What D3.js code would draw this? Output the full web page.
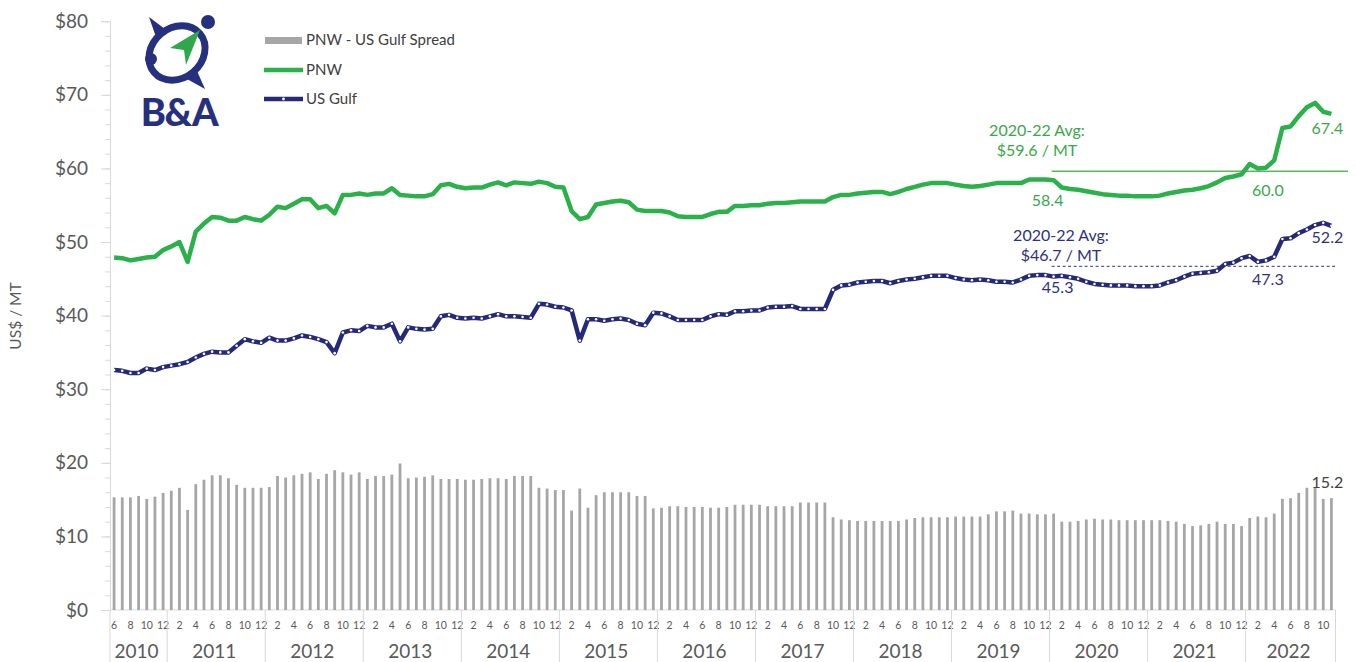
<!DOCTYPE html>
<html>
<head>
<meta charset="utf-8">
<script src="https://cdn.jsdelivr.net/npm/d3@7"></script>
<style>
  html, body { margin: 0; padding: 0; background: #fff; }
  svg { display: block; font-family: Lato, "Open Sans", "Liberation Sans", sans-serif; }
</style>
</head>
<body>
<svg id="chart" width="1356" height="662"></svg>
<script>
// Monthly series, June 2010 through November 2022 (US$ per metric ton)
const startYear = 2010;
const startMonth = 6;

const pnw = [
  47.9, 47.8, 47.5, 47.7, 47.9, 48.0, 48.9, 49.4, 50.0, 47.3,
  51.4, 52.5, 53.4, 53.3, 52.9, 52.9, 53.4, 53.1, 52.9, 53.7,
  54.8, 54.6, 55.2, 55.8, 55.8, 54.6, 54.9, 53.9, 56.4, 56.4,
  56.6, 56.4, 56.6, 56.6, 57.3, 56.4, 56.3, 56.2, 56.2, 56.5,
  57.7, 57.9, 57.5, 57.3, 57.4, 57.4, 57.8, 58.1, 57.7, 58.1,
  58.0, 57.9, 58.2, 58.0, 57.5, 57.4, 54.2, 53.1, 53.4, 55.1,
  55.3, 55.5, 55.6, 55.4, 54.4, 54.2, 54.2, 54.2, 54.0, 53.5,
  53.4, 53.4, 53.4, 53.8, 54.1, 54.1, 54.9, 54.9, 55.0, 55.0,
  55.2, 55.3, 55.3, 55.4, 55.5, 55.5, 55.5, 55.5, 56.1, 56.4,
  56.4, 56.6, 56.7, 56.8, 56.8, 56.5, 56.8, 57.2, 57.5, 57.8,
  58.0, 58.0, 58.0, 57.8, 57.6, 57.5, 57.6, 57.8, 58.0, 58.0,
  58.0, 58.0, 58.5, 58.5, 58.5, 58.4, 57.4, 57.2, 57.1, 56.9,
  56.7, 56.5, 56.4, 56.3, 56.3, 56.2, 56.2, 56.2, 56.3, 56.6,
  56.8, 57.0, 57.1, 57.3, 57.6, 58.1, 58.7, 58.9, 59.2, 60.6,
  60.0, 60.1, 61.1, 65.5, 65.7, 67.1, 68.3, 68.9, 67.7, 67.4
];

const usGulf = [
  32.6, 32.5, 32.2, 32.2, 32.8, 32.6, 33.0, 33.2, 33.4, 33.7,
  34.3, 34.8, 35.1, 35.0, 35.0, 35.9, 36.8, 36.5, 36.3, 37.0,
  36.6, 36.6, 36.9, 37.3, 37.1, 36.8, 36.4, 34.9, 37.7, 38.0,
  37.9, 38.6, 38.4, 38.4, 38.9, 36.5, 38.4, 38.2, 38.1, 38.2,
  39.9, 40.1, 39.7, 39.6, 39.7, 39.6, 39.9, 40.2, 39.9, 39.9,
  39.8, 39.7, 41.6, 41.5, 41.2, 41.1, 40.7, 36.6, 39.5, 39.5,
  39.3, 39.5, 39.6, 39.4, 38.9, 38.7, 40.4, 40.3, 39.9, 39.4,
  39.4, 39.4, 39.4, 39.9, 40.2, 40.1, 40.6, 40.6, 40.7, 40.7,
  41.1, 41.2, 41.2, 41.3, 40.9, 40.9, 40.9, 40.9, 43.5, 44.1,
  44.2, 44.5, 44.6, 44.7, 44.7, 44.4, 44.7, 44.9, 45.0, 45.2,
  45.4, 45.4, 45.4, 45.1, 44.9, 44.8, 44.9, 44.8, 44.6, 44.6,
  44.5, 44.9, 45.4, 45.5, 45.5, 45.3, 45.4, 45.2, 45.0, 44.6,
  44.3, 44.2, 44.1, 44.1, 44.1, 44.0, 44.0, 44.0, 44.1, 44.5,
  44.8, 45.3, 45.7, 45.8, 45.9, 46.1, 47.0, 47.2, 47.8, 48.1,
  47.3, 47.5, 48.0, 50.4, 50.5, 51.2, 51.7, 52.3, 52.6, 52.2
];

const spread = [
  15.3, 15.3, 15.3, 15.5, 15.1, 15.4, 15.9, 16.2, 16.6, 13.6,
  17.1, 17.7, 18.3, 18.3, 17.9, 17.0, 16.6, 16.6, 16.6, 16.7,
  18.2, 18.0, 18.3, 18.5, 18.7, 17.8, 18.5, 19.0, 18.7, 18.4,
  18.7, 17.8, 18.2, 18.2, 18.4, 19.9, 17.9, 18.0, 18.1, 18.3,
  17.8, 17.8, 17.8, 17.7, 17.7, 17.8, 17.9, 17.9, 17.8, 18.2,
  18.2, 18.2, 16.6, 16.5, 16.3, 16.3, 13.5, 16.5, 13.9, 15.6,
  16.0, 16.0, 16.0, 16.0, 15.5, 15.5, 13.8, 13.9, 14.1, 14.1,
  14.0, 14.0, 14.0, 13.9, 13.9, 14.0, 14.3, 14.3, 14.3, 14.3,
  14.1, 14.1, 14.1, 14.1, 14.6, 14.6, 14.6, 14.6, 12.6, 12.3,
  12.2, 12.1, 12.1, 12.1, 12.1, 12.1, 12.1, 12.3, 12.5, 12.6,
  12.6, 12.6, 12.6, 12.7, 12.7, 12.7, 12.7, 13.0, 13.4, 13.4,
  13.5, 13.1, 13.1, 13.0, 13.0, 13.1, 12.0, 12.0, 12.1, 12.3,
  12.4, 12.3, 12.3, 12.2, 12.2, 12.2, 12.2, 12.2, 12.2, 12.1,
  12.0, 11.7, 11.4, 11.5, 11.7, 12.0, 11.7, 11.7, 11.4, 12.5,
  12.7, 12.6, 13.1, 15.1, 15.2, 15.9, 16.6, 16.6, 15.1, 15.2
];

const yTicks = [0, 10, 20, 30, 40, 50, 60, 70, 80];
const years = [2010, 2011, 2012, 2013, 2014, 2015, 2016, 2017, 2018, 2019, 2020, 2021, 2022];

// 2020-22 averages and the start month of the averaging window
const pnwAvg = 59.6;
const gulfAvg = 46.7;
const avgStartIndex = 115;

// Point labels: which month gets a value label, with offsets from the point
const pnwLabels = [{ i: 115, dx: -6, dy: 26 }, { i: 140, dx: 10, dy: 28 }, { i: 149, dx: -4, dy: 20 }];
const gulfLabels = [{ i: 115, dx: 4, dy: 16 }, { i: 140, dx: 10, dy: 23 }, { i: 149, dx: -4, dy: 17 }];
const spreadLabels = [{ i: 149, dx: -4, dy: -10 }];

// Month categories
const months = pnw.map((_, i) => {
  const m0 = startMonth - 1 + i;
  return { year: startYear + Math.floor(m0 / 12), month: (m0 % 12) + 1 };
});

const GREEN = "#2bb14a";
const GREEN_TXT = "#3aa84a";
const NAVY = "#24297a";
const NAVY_TXT = "#2d3180";
const BAR = "#a6a6a6";
const AXIS = "#d9d9d9";
const TXT = "#595959";

const svg = d3.select("#chart");

const x = d3.scaleBand().domain(d3.range(months.length)).range([110, 1335.5]).padding(0);
const y = d3.scaleLinear().domain([0, 80]).range([610, 21.2]);
const cx = i => x(i) + x.bandwidth() / 2;

// ---- Y axis (major + minor ticks)
const yMinor = svg.append("g").attr("transform", "translate(110,0)")
  .call(d3.axisLeft(y).tickValues(d3.range(0, 81, 2)).tickSize(5).tickFormat(""));
yMinor.selectAll("line").attr("stroke", AXIS);
yMinor.select(".domain").remove();

const yAxis = svg.append("g").attr("transform", "translate(110,0)")
  .call(d3.axisLeft(y).tickValues(yTicks).tickSize(9).tickPadding(13).tickFormat(d => "$" + d));
yAxis.select(".domain").attr("stroke", AXIS);
yAxis.selectAll("line").attr("stroke", AXIS);
yAxis.selectAll("text").attr("fill", TXT).attr("font-size", 19).attr("font-family", "Lato, sans-serif");

svg.append("text")
  .attr("transform", "translate(21,316) rotate(-90)")
  .attr("text-anchor", "middle")
  .attr("fill", TXT)
  .attr("font-size", 15.5)
  .text("US$ / MT");

// ---- X axis: month row + year row
const xg = svg.append("g");
xg.append("line").attr("x1", 110).attr("x2", 1335.5).attr("y1", 610).attr("y2", 610).attr("stroke", AXIS);

xg.selectAll("text.month")
  .data(months.map((m, i) => ({ ...m, i })).filter(d => d.i % 2 === 0))
  .join("text")
  .attr("class", "month")
  .attr("x", d => cx(d.i))
  .attr("y", 629)
  .attr("text-anchor", "middle")
  .attr("font-size", 10.5)
  .attr("fill", TXT)
  .text(d => d.month);

const yearSpans = years.map(yr => {
  const idx = months.map((m, i) => m.year === yr ? i : -1).filter(i => i >= 0);
  return { yr, x0: x(idx[0]), x1: x(idx[idx.length - 1]) + x.bandwidth() };
});

xg.selectAll("line.div")
  .data([yearSpans[0].x0, ...yearSpans.map(s => s.x1)])
  .join("line")
  .attr("class", "div")
  .attr("x1", d => d).attr("x2", d => d)
  .attr("y1", 610).attr("y2", 662)
  .attr("stroke", AXIS);

xg.selectAll("text.year")
  .data(yearSpans)
  .join("text")
  .attr("class", "year")
  .attr("x", d => (d.x0 + d.x1) / 2 - 2)
  .attr("y", 658)
  .attr("text-anchor", "middle")
  .attr("font-size", 19)
  .attr("fill", TXT)
  .text(d => d.yr);

// ---- Spread bars
const barW = 2.8;
svg.append("g").selectAll("rect")
  .data(spread)
  .join("rect")
  .attr("x", (d, i) => cx(i) - barW / 2)
  .attr("y", d => y(d))
  .attr("width", barW)
  .attr("height", d => y(0) - y(d))
  .attr("fill", BAR);

// ---- Average reference lines
svg.append("line")
  .attr("x1", cx(avgStartIndex) - 2).attr("x2", 1348)
  .attr("y1", y(pnwAvg)).attr("y2", y(pnwAvg))
  .attr("stroke", "#5cb85f").attr("stroke-width", 1.5);

svg.append("line")
  .attr("x1", cx(avgStartIndex) - 2).attr("x2", 1336)
  .attr("y1", y(gulfAvg)).attr("y2", y(gulfAvg))
  .attr("stroke", "#5a5e96").attr("stroke-width", 1.2)
  .attr("stroke-dasharray", "3,2.5");

// ---- Lines
const line = d3.line().x((d, i) => cx(i)).y(d => y(d));

svg.append("path")
  .datum(pnw)
  .attr("d", line)
  .attr("fill", "none")
  .attr("stroke", GREEN)
  .attr("stroke-width", 4.5)
  .attr("stroke-linejoin", "round");

svg.append("path")
  .datum(usGulf)
  .attr("d", line)
  .attr("fill", "none")
  .attr("stroke", NAVY)
  .attr("stroke-width", 4.5)
  .attr("stroke-linejoin", "round");

svg.append("g").selectAll("circle")
  .data(usGulf)
  .join("circle")
  .attr("cx", (d, i) => cx(i))
  .attr("cy", d => y(d))
  .attr("r", 1.3)
  .attr("fill", "#fff");

// ---- Value labels
function addLabels(specs, data, color) {
  svg.append("g").selectAll("text")
    .data(specs)
    .join("text")
    .attr("x", d => cx(d.i) + d.dx)
    .attr("y", d => y(data[d.i]) + d.dy)
    .attr("text-anchor", "middle")
    .attr("font-size", 16)
    .attr("fill", color)
    .text(d => data[d.i].toFixed(1));
}
addLabels(pnwLabels, pnw, GREEN_TXT);
addLabels(gulfLabels, usGulf, NAVY_TXT);
addLabels(spreadLabels, spread, "#404040");

// Average annotations
const avgNote = (cxp, y0, color, value) => {
  const g = svg.append("g").attr("fill", color).attr("font-size", 16).attr("text-anchor", "middle");
  g.append("text").attr("x", cxp).attr("y", y0).text("2020-22 Avg:");
  g.append("text").attr("x", cxp).attr("y", y0 + 20).text("$" + value.toFixed(1) + " / MT");
};
avgNote(1037, 136, GREEN_TXT, pnwAvg);
avgNote(1061, 241, NAVY_TXT, gulfAvg);

// ---- Legend
const lg = svg.append("g").attr("font-size", 15).attr("fill", "#404040");
lg.append("rect").attr("x", 265).attr("y", 37).attr("width", 37).attr("height", 7).attr("fill", BAR);
lg.append("text").attr("x", 306).attr("y", 45).text("PNW - US Gulf Spread");
lg.append("line").attr("x1", 264).attr("x2", 303).attr("y1", 70).attr("y2", 70).attr("stroke", GREEN).attr("stroke-width", 4.5);
lg.append("text").attr("x", 306).attr("y", 75).text("PNW");
lg.append("line").attr("x1", 264).attr("x2", 303).attr("y1", 99).attr("y2", 99).attr("stroke", NAVY).attr("stroke-width", 4.5);
lg.append("circle").attr("cx", 283.5).attr("cy", 99).attr("r", 1.4).attr("fill", "#fff");
lg.append("text").attr("x", 306).attr("y", 104).text("US Gulf");

// ---- B&A logo
const LOGO = "#27307f";
const logo = svg.append("g");
logo.append("ellipse")
  .attr("cx", 177).attr("cy", 53).attr("rx", 30).attr("ry", 25)
  .attr("transform", "rotate(-40,177,53)")
  .attr("fill", "none").attr("stroke", LOGO).attr("stroke-width", 7);
logo.append("circle").attr("cx", 208).attr("cy", 22).attr("r", 7).attr("fill", LOGO);
logo.append("circle").attr("cx", 151).attr("cy", 59).attr("r", 6).attr("fill", LOGO);
logo.append("path").attr("d", "M149,17 L165,29 L156,37 Z").attr("fill", LOGO);
logo.append("path").attr("d", "M205,89 L187,79 L197,71 Z").attr("fill", LOGO);
logo.append("path").attr("d", "M200,30 L170,48 L184,50 L186,65 Z").attr("fill", "#2ea84a");
logo.append("text")
  .attr("x", 179).attr("y", 126)
  .attr("text-anchor", "middle")
  .attr("font-size", 38).attr("font-weight", 900)
  .attr("letter-spacing", -1.5)
  .attr("fill", LOGO)
  .text("B&A");
</script>
</body>
</html>
